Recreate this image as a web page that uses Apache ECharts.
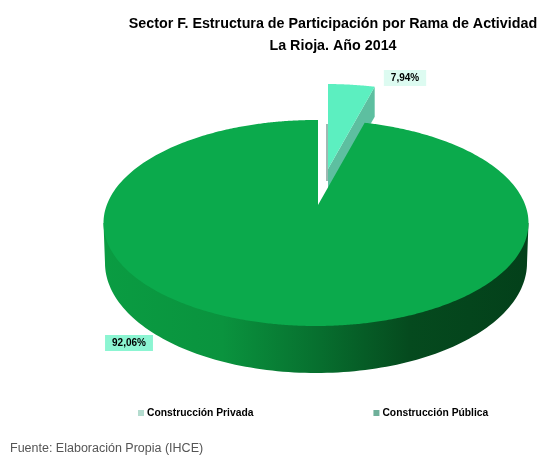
<!DOCTYPE html>
<html><head><meta charset="utf-8">
<style>html,body{margin:0;padding:0;background:#fff}#c{width:545px;height:456px}</style>
<script src="https://cdn.jsdelivr.net/npm/echarts@6/dist/echarts.min.js"></script>
</head><body><div id="c"></div>
<script>
const categories = ['Construcción Privada', 'Construcción Pública'];
const shares = [7.94, 92.06];
const shareLabels = ['7,94%', '92,06%'];
const titleLines = ['Sector F. Estructura de Participación por Rama de Actividad', 'La Rioja. Año 2014'];
const sourceNote = 'Fuente: Elaboración Propia (IHCE)';

const total = shares[0] + shares[1];
const view = {cx: 316, cy: 223, rx: 212.5, ry: 103, ax: 318, ay: 205, squash: 0.96,
  wallCx: 316, wallCy: 263, wallRx: 211, wallRy: 110, ex: 10, ey: -36, backDepth: 30};

function rim(phi) {
  const dx = Math.sin(phi), dy = -Math.cos(phi) * view.squash;
  const px = view.ax - view.cx, py = view.ay - view.cy;
  const A = dx*dx/(view.rx*view.rx) + dy*dy/(view.ry*view.ry);
  const B = 2*(px*dx/(view.rx*view.rx) + py*dy/(view.ry*view.ry));
  const C = px*px/(view.rx*view.rx) + py*py/(view.ry*view.ry) - 1;
  const t = (-B + Math.sqrt(B*B - 4*A*C)) / (2*A);
  return [view.ax + t*dx, view.ay + t*dy];
}
function fan(from, to, ox, oy) {
  const pts = [[view.ax + ox, view.ay + oy]];
  const n = Math.max(8, Math.round((to - from) * 80));
  for (let i = 0; i <= n; i++) {
    const p = rim(from + (to - from) * i / n);
    pts.push([p[0] + ox, p[1] + oy]);
  }
  return pts;
}
function textEl(str, x, y, bg) {
  return {type: 'text', z2: 10, style: {text: str, x, y, align: 'center', verticalAlign: 'middle',
    font: 'bold 10px "Liberation Sans", Arial, sans-serif', fill: '#000',
    backgroundColor: bg, padding: [3, 7, 3, 7]}};
}
function renderSmall(params, api) {
  const phi = api.value(0) / total * Math.PI * 2;
  const ox = view.ex, oy = view.ey, d = view.backDepth;
  const top = fan(0, phi, ox, oy);
  const apex = top[0], end = top[top.length - 1];
  return {type: 'group', children: [
    {type: 'line', shape: {x1: apex[0] - 1, y1: apex[1] - 45, x2: apex[0] - 1, y2: apex[1] + 12},
      style: {stroke: '#9FB9B2', lineWidth: 2}},
    {type: 'polygon', shape: {points: [apex, end, [end[0], end[1] + d], [apex[0], apex[1] + d]]},
      style: {fill: '#5DBFA0'}},
    {type: 'polygon', shape: {points: top}, style: {fill: '#5CEFC0'}},
    textEl(shareLabels[0], 405, 78, '#DDFBF1')
  ]};
}
function renderMain(params, api) {
  const phi0 = (1 - api.value(0) / total) * Math.PI * 2;
  const wall = [];
  for (let i = 0; i <= 120; i++) {
    const a = Math.PI * i / 120;
    wall.push([view.wallCx + view.wallRx * Math.cos(a), view.wallCy + view.wallRy * Math.sin(a)]);
  }
  wall.push([view.cx - view.rx, view.cy], [view.cx + view.rx, view.cy]);
  return {type: 'group', children: [
    {type: 'polygon', shape: {points: wall}, style: {fill: new echarts.graphic.LinearGradient(0, 0, 1, 0, [
      {offset: 0, color: '#0A9C42'}, {offset: 0.28, color: '#0A933E'}, {offset: 0.5, color: '#07702F'},
      {offset: 0.72, color: '#054A1E'}, {offset: 1, color: '#03401A'}])}},
    {type: 'polygon', shape: {points: fan(phi0, Math.PI * 2, 0, 0)},
      style: {fill: '#0BAA4C'}},
    textEl(shareLabels[1], 129, 343, '#8CF5D2')
  ]};
}

const chart = echarts.init(document.getElementById('c'), null, {renderer: 'canvas'});
chart.setOption({
  animation: false,
  backgroundColor: '#fff',
  title: [
    {text: titleLines.join('\n'), left: 328, top: 8, textAlign: 'center',
      textStyle: {fontFamily: '"Liberation Sans", Arial, sans-serif', fontSize: 14.3, fontWeight: 'bold', color: '#000', lineHeight: 22}},
    {text: sourceNote, left: 5, top: 437,
      textStyle: {fontFamily: '"Liberation Sans", Arial, sans-serif', fontSize: 12.5, fontWeight: 'normal', color: '#555'}}
  ],
  legend: {
    left: 133, top: 403, icon: 'rect', itemWidth: 6, itemHeight: 6, itemGap: 120,
    selectedMode: false,
    textStyle: {fontFamily: '"Liberation Sans", Arial, sans-serif', fontSize: 10.3, fontWeight: 'bold', color: '#000', padding: [0, 0, 0, -2]},
    data: [
      {name: categories[0], itemStyle: {color: '#B4DCCF'}},
      {name: categories[1], itemStyle: {color: '#6FB09A'}}
    ]
  },
  series: [
    {type: 'custom', name: categories[0], coordinateSystem: 'none', renderItem: renderSmall, data: [[shares[0]]], z: 1, silent: true},
    {type: 'custom', name: categories[1], coordinateSystem: 'none', renderItem: renderMain, data: [[shares[1]]], z: 2, silent: true}
  ]
});
</script></body></html>
